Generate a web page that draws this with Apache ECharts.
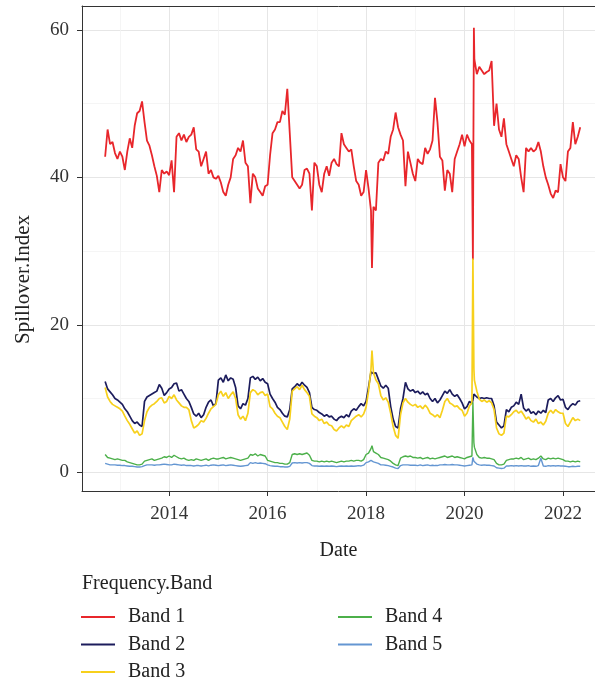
<!DOCTYPE html>
<html>
<head>
<meta charset="utf-8">
<script src="https://cdn.jsdelivr.net/npm/echarts@6/dist/echarts.min.js"></script>
<style>
  html, body { margin: 0; padding: 0; background: #fff; }
  #chart-container { width: 595px; height: 682px; }
</style>
</head>
<body>
<div id="chart-container"></div>
<script>
// sample dates (decimal years)
var dates = [
  2012.70, 2012.75, 2012.80, 2012.85, 2012.90, 2012.95,
  2013.00, 2013.05, 2013.10, 2013.15, 2013.20, 2013.25, 2013.30, 2013.35, 2013.40, 2013.45, 2013.50, 2013.55, 2013.60, 2013.65, 2013.70, 2013.75, 2013.80, 2013.85, 2013.90, 2013.95,
  2014.00, 2014.05, 2014.10, 2014.15, 2014.20, 2014.25, 2014.30, 2014.35, 2014.40, 2014.45, 2014.50, 2014.55, 2014.60, 2014.65, 2014.70, 2014.75, 2014.80, 2014.85, 2014.90, 2014.95,
  2015.00, 2015.05, 2015.10, 2015.15, 2015.20, 2015.25, 2015.30, 2015.35, 2015.40, 2015.45, 2015.50, 2015.55, 2015.60, 2015.65, 2015.70, 2015.75, 2015.80, 2015.85, 2015.90, 2015.95,
  2016.00, 2016.05, 2016.10, 2016.15, 2016.20, 2016.25, 2016.30, 2016.35, 2016.40, 2016.45, 2016.50, 2016.55, 2016.60, 2016.65, 2016.70, 2016.75, 2016.80, 2016.85, 2016.90, 2016.95,
  2017.00, 2017.05, 2017.10, 2017.15, 2017.20, 2017.25, 2017.30, 2017.35, 2017.40, 2017.45, 2017.50, 2017.55, 2017.60, 2017.65, 2017.70, 2017.75, 2017.80, 2017.85, 2017.90, 2017.95,
  2018.00, 2018.05, 2018.10, 2018.12, 2018.15, 2018.20, 2018.25, 2018.30, 2018.35, 2018.40, 2018.45, 2018.50, 2018.55, 2018.60, 2018.65, 2018.70, 2018.75, 2018.80, 2018.85, 2018.90, 2018.95,
  2019.00, 2019.05, 2019.10, 2019.15, 2019.20, 2019.25, 2019.30, 2019.35, 2019.40, 2019.45, 2019.50, 2019.55, 2019.60, 2019.65, 2019.70, 2019.75, 2019.80, 2019.85, 2019.90, 2019.95,
  2020.00, 2020.05, 2020.10, 2020.15, 2020.17, 2020.19, 2020.20, 2020.25, 2020.30, 2020.35, 2020.40, 2020.45, 2020.50, 2020.55, 2020.60, 2020.65, 2020.70, 2020.75, 2020.80, 2020.85, 2020.90, 2020.95,
  2021.00, 2021.05, 2021.10, 2021.15, 2021.20, 2021.25, 2021.30, 2021.35, 2021.40, 2021.45, 2021.50, 2021.55, 2021.60, 2021.65, 2021.70, 2021.75, 2021.80, 2021.85, 2021.90, 2021.95,
  2022.00, 2022.05, 2022.10, 2022.15, 2022.20, 2022.25, 2022.30, 2022.35
];

var band1 = [
  42.8, 46.5, 44.5, 44.8, 43.3, 42.5,
  43.5, 42.8, 41.0, 43.5, 45.3, 44.0, 47.0, 48.7, 49.0, 50.3, 47.5, 45.0, 44.3, 43.0, 41.5, 40.2, 38.0, 41.0, 40.5, 40.8,
  40.3, 42.3, 38.0, 45.5, 46.0, 45.0, 45.8, 44.8, 45.5, 45.8, 46.8, 43.8, 43.5, 41.5, 42.5, 43.5, 40.5, 41.0, 40.0, 39.8,
  40.2, 39.3, 38.0, 37.5, 39.0, 40.0, 42.5, 43.0, 44.0, 43.5, 45.0, 42.0, 41.5, 36.5, 40.5, 40.0, 38.5, 38.0, 37.5, 38.8,
  39.0, 43.0, 46.0, 46.5, 47.5, 47.5, 49.0, 48.5, 52.0, 46.0, 40.0, 39.5, 39.0, 38.5, 39.0, 41.0, 41.2, 40.5, 35.5, 42.0,
  41.5, 39.0, 38.0, 40.5, 41.5, 40.2, 42.0, 42.5, 41.8, 41.5, 46.0, 44.5, 44.0, 43.5, 43.8, 41.5, 39.5, 39.0, 37.5, 38.0,
  41.0, 38.5, 35.5, 27.7, 36.0, 35.5, 42.0, 42.5, 42.3, 43.5, 43.2, 45.5, 46.5, 48.8, 46.8, 45.8, 45.0, 38.8, 43.5, 42.0, 40.5,
  39.5, 42.5, 42.0, 41.8, 44.0, 43.2, 43.8, 45.0, 50.8, 47.5, 42.8, 42.3, 38.2, 41.0, 40.5, 38.0, 42.5, 43.5, 44.5, 45.8,
  44.2, 45.8, 45.0, 44.5, 28.8, 60.3, 56.0, 54.0, 55.0, 54.5, 54.0, 54.3, 54.5, 55.8, 47.0, 50.0, 46.5, 45.5, 48.0, 44.5, 43.5, 42.5,
  41.5, 43.0, 42.5, 40.0, 38.0, 44.0, 43.5, 44.0, 43.5, 43.8, 44.8, 43.5, 41.5, 40.0, 39.0, 37.8, 37.2, 38.2, 38.0, 41.8,
  40.0, 39.5, 43.5, 44.0, 47.5, 44.5, 45.5, 46.8
];

var band2 = [
  12.3, 11.3, 10.9, 10.5, 10.0, 9.8,
  9.5, 9.2, 8.6, 8.2, 7.6, 7.0, 6.6, 6.8, 6.4, 6.2, 9.6, 10.2, 10.4, 10.6, 10.8, 11.0, 11.9, 11.4, 10.4, 10.8,
  11.3, 11.5, 12.0, 12.1, 11.0, 11.2, 10.6, 10.0, 9.6, 8.8, 7.9, 7.6, 8.0, 7.4, 7.8, 8.8, 9.5, 9.8, 9.0, 9.3,
  12.5, 12.8, 12.2, 13.2, 12.4, 12.8, 12.6, 11.5, 9.0, 8.6, 9.3, 9.1, 10.0, 12.8, 13.0, 12.6, 12.9, 12.4, 12.7, 12.2,
  12.0, 10.6, 10.0, 9.5, 8.8, 8.5, 8.0, 7.6, 7.5, 8.5, 11.3, 11.6, 12.0, 11.7, 12.2, 11.8, 11.5, 10.8, 8.8, 8.5,
  8.4, 8.1, 7.9, 7.6, 7.8, 7.5, 7.6, 7.2, 7.0, 7.4, 7.6, 7.4, 7.8, 7.5, 8.3, 8.6, 8.4, 8.9, 9.3, 9.0,
  9.6, 11.5, 13.6, 13.8, 13.4, 13.5, 12.6, 11.7, 11.4, 11.8, 11.4, 8.9, 7.2, 6.2, 6.0, 8.6, 10.0, 12.2, 11.3, 11.0, 11.2,
  10.8, 11.0, 10.6, 10.9, 10.5, 10.7, 10.0, 9.6, 10.0, 9.4, 9.8, 10.4, 11.0, 10.7, 11.2, 10.6, 10.3, 10.5, 10.0, 9.4,
  8.6, 8.9, 9.6, 9.3, 9.8, 10.6, 10.4, 10.2, 10.0, 10.1, 10.0, 10.1, 10.0, 10.0, 9.0, 6.8, 6.4, 6.0, 6.3, 8.5, 8.2, 8.8,
  9.0, 9.5, 9.2, 10.6, 8.7, 8.3, 8.6, 8.0, 8.2, 7.8, 8.3, 8.0, 8.4, 8.1, 9.8, 10.0, 9.6, 10.1, 10.4, 9.8,
  9.9, 8.8, 8.5, 9.0, 9.3, 9.1, 9.6, 9.7
];

var band3 = [
  11.5, 10.2, 9.6, 9.2, 9.0, 8.8,
  8.6, 8.3, 7.6, 7.0, 6.5, 5.9, 5.3, 5.6, 5.0, 5.2, 7.0, 8.2, 8.8, 9.1, 9.3, 9.6, 10.0, 10.1, 9.4, 9.6,
  10.3, 10.0, 10.5, 9.8, 9.4, 9.0, 8.8, 8.8, 8.5, 7.0, 6.0, 6.2, 6.5, 7.0, 6.8, 7.3, 8.0, 8.6, 8.9, 9.2,
  10.5, 11.0, 10.3, 10.8, 10.0, 10.5, 10.9, 10.0, 7.8, 7.2, 7.6, 7.0, 8.0, 10.8, 11.2, 11.0, 10.5, 10.8, 10.9, 10.4,
  10.6, 8.9, 8.6, 8.0, 7.6, 7.4, 6.8, 6.2, 5.8, 7.2, 11.0, 11.3, 11.6, 11.2, 11.8, 11.2, 10.8, 10.3, 7.9, 7.6,
  7.4, 7.0, 7.2, 6.6, 6.8, 6.4, 6.3, 5.8, 5.6, 6.0, 6.3, 6.0, 6.4, 6.2, 7.0, 7.3, 7.6, 7.8, 7.5, 7.9,
  8.8, 11.0, 14.0, 16.5, 13.5, 12.5, 12.0, 10.4, 9.8, 10.1, 9.5, 8.0, 6.2, 5.0, 4.6, 7.8, 9.4, 10.0, 9.5, 9.2, 9.0,
  9.2, 8.8, 9.0, 8.6, 9.1, 8.7, 8.0, 7.8, 7.5, 7.8, 7.4, 8.4, 9.6, 10.0, 9.4, 9.2, 8.9, 9.0, 8.6, 8.4,
  7.6, 8.0, 9.0, 9.4, 29.0, 14.0, 12.5, 11.0, 9.9, 9.6, 9.8, 9.5, 9.7, 9.4, 8.5, 6.0, 5.2, 5.0, 5.3, 7.6, 7.5, 7.8,
  8.2, 8.4, 8.0, 8.3, 7.8, 7.2, 7.5, 7.0, 6.8, 7.2, 6.6, 6.8, 6.4, 6.9, 8.0, 8.4, 8.0, 8.5, 8.2, 8.0,
  8.0, 6.6, 6.2, 6.8, 7.4, 7.0, 7.2, 7.0
];

var band4 = [
  2.4, 2.0, 1.9, 1.8, 1.7, 1.8,
  1.7, 1.6, 1.6, 1.4, 1.3, 1.2, 1.1, 1.0, 1.0, 1.1, 1.5, 1.6, 1.7, 1.8, 1.6, 1.7, 1.8, 1.9, 2.1, 2.0,
  2.2, 2.0, 2.3, 2.1, 1.9, 1.8, 1.9, 1.7, 1.6, 1.7, 1.6, 1.8, 1.7, 1.6, 1.7, 1.8, 1.6, 1.8, 1.9, 1.8,
  1.8, 1.9, 2.0, 1.8, 1.9, 2.0, 1.9, 1.8, 1.7, 1.6, 1.7, 1.8, 1.9, 2.4, 2.3, 2.5, 2.2, 2.4, 2.3, 2.2,
  1.6, 1.5, 1.4, 1.3, 1.3, 1.2, 1.2, 1.1, 1.1, 1.3, 2.4, 2.5, 2.4, 2.5, 2.4, 2.5, 2.6, 2.3, 1.6, 1.5,
  1.5, 1.4, 1.5, 1.4, 1.5, 1.4, 1.5, 1.4, 1.3, 1.4, 1.5, 1.4, 1.5, 1.5, 1.6, 1.5, 1.6, 1.6, 1.5, 1.7,
  2.4, 2.6, 3.2, 3.6, 2.8, 2.6, 2.4, 2.0, 1.9, 1.8, 1.7, 1.5, 1.2, 1.0, 0.9, 1.9, 2.1, 2.2, 2.1, 2.2, 2.0,
  2.0, 1.9, 2.0, 1.8, 1.9, 2.0, 1.8, 1.9, 1.8, 1.9, 2.0, 2.1, 2.2, 2.0, 2.1, 2.2, 2.0, 2.1, 2.0, 1.9,
  1.8, 2.0, 2.1, 2.2, 9.5, 4.0, 3.4, 2.4, 2.0, 1.9, 2.0, 1.9, 1.9, 1.8, 1.7, 1.2, 1.0, 1.0, 1.1, 1.6, 1.7, 1.8,
  1.8, 1.9, 1.8, 2.0, 1.7, 1.8, 1.9, 1.7, 1.8, 1.7, 1.9, 2.2, 1.8, 1.7, 1.9, 1.8, 1.9, 1.8, 1.9, 1.8,
  1.7, 1.5, 1.5, 1.4, 1.5, 1.4, 1.5, 1.4
];

var band5 = [
  1.2, 1.1, 1.0, 1.0, 1.0, 0.95,
  0.95, 0.9, 0.9, 0.85, 0.8, 0.8, 0.75, 0.7, 0.7, 0.75, 0.9, 1.0, 1.0, 1.0, 0.95, 1.0, 1.0, 1.05, 1.1, 1.05,
  1.0, 1.0, 1.1, 1.05, 1.0, 0.95, 1.0, 0.9, 0.9, 0.9, 0.85, 0.9, 0.9, 0.85, 0.9, 0.95, 0.85, 0.95, 1.0, 0.95,
  0.9, 0.95, 1.0, 0.9, 0.95, 1.0, 0.95, 0.9, 0.85, 0.8, 0.85, 0.9, 0.95, 1.3, 1.2, 1.3, 1.2, 1.25, 1.2, 1.15,
  1.0, 0.9, 0.85, 0.8, 0.8, 0.75, 0.75, 0.7, 0.7, 0.8, 1.25, 1.3, 1.25, 1.3, 1.25, 1.3, 1.3, 1.2, 0.9, 0.85,
  0.85, 0.8, 0.85, 0.8, 0.85, 0.8, 0.85, 0.8, 0.75, 0.8, 0.85, 0.8, 0.85, 0.8, 0.85, 0.8, 0.85, 0.9, 0.85, 0.95,
  1.3, 1.4, 1.6, 1.6, 1.4, 1.3, 1.2, 1.0, 1.0, 0.95, 0.9, 0.8, 0.7, 0.55, 0.5, 0.9, 1.0, 1.0, 1.0, 0.95, 0.95,
  0.95, 0.9, 1.0, 0.9, 0.95, 1.0, 0.9, 0.95, 0.9, 0.9, 1.0, 1.0, 1.05, 1.0, 1.0, 1.05, 1.0, 1.0, 0.95, 0.9,
  0.85, 0.9, 0.95, 1.0, 2.0, 1.5, 1.3, 1.1, 1.0, 0.95, 1.0, 0.95, 0.95, 0.9, 0.85, 0.6, 0.55, 0.5, 0.55, 0.85, 0.85, 0.9,
  0.85, 0.9, 0.85, 0.9, 0.85, 0.85, 0.9, 0.8, 0.85, 0.8, 0.9, 1.9, 0.85, 0.8, 0.9, 0.85, 0.9, 0.85, 0.9, 0.85,
  0.85, 0.8, 0.75, 0.75, 0.8, 0.75, 0.8, 0.8
];

var bandNames = ['Band 1', 'Band 2', 'Band 3', 'Band 4', 'Band 5'];
var bandValues = [band1, band2, band3, band4, band5];
var bandColors = ['#e8262b', '#1c1c5c', '#f7d01c', '#4cb04a', '#6496d2'];
var bandWidths = [1.8, 1.7, 1.7, 1.4, 1.4];
var xTicks = [2014, 2016, 2018, 2020, 2022];
var yTicks = [0, 20, 40, 60];

var dom = document.getElementById('chart-container');
var myChart = echarts.init(dom, null, { renderer: 'canvas' });

var font = 'Liberation Serif';

var series = bandValues.map(function (vals, k) {
    return {
        name: bandNames[k],
        type: 'line',
        data: dates.map(function (d, i) { return [d, vals[i]]; }),
        symbol: 'none',
        showSymbol: false,
        lineStyle: { width: bandWidths[k], color: bandColors[k] },
        itemStyle: { color: bandColors[k] },
        animation: false
    };
});

var legendBase = {
    orient: 'vertical',
    top: 602,
    height: 90,
    icon: 'rect',
    itemWidth: 34,
    itemHeight: 2,
    itemGap: 7.5,
    textStyle: { fontFamily: font, fontSize: 20, color: '#222', lineHeight: 20, padding: [0, 0, 0, 8] }
};

var xMin = 2012.23, xMax = 2022.65;

var option = {
    backgroundColor: '#fff',
    animation: false,
    title: {
        text: 'Frequency.Band',
        left: 77,
        top: 569,
        textStyle: { fontFamily: font, fontSize: 20, fontWeight: 'normal', color: '#222' }
    },
    legend: [
        Object.assign({}, legendBase, { left: 76, data: bandNames.slice(0, 3) }),
        Object.assign({}, legendBase, { left: 333, data: bandNames.slice(3) })
    ],
    grid: {
        left: 82,
        right: 0,
        top: 6,
        bottom: 191,
        show: false
    },
    xAxis: [{
        type: 'value',
        position: 'bottom',
        min: xMin,
        max: xMax,
        minInterval: 2,
        maxInterval: 2,
        name: 'Date',
        nameLocation: 'middle',
        nameGap: 50,
        nameTextStyle: { fontFamily: font, fontSize: 20, color: '#222' },
        axisLine: { show: true, onZero: false, lineStyle: { color: '#333', width: 1 } },
        axisTick: { show: true, length: 5, lineStyle: { color: '#333' }, customValues: xTicks },
        axisLabel: {
            customValues: xTicks,
            margin: 14,
            fontFamily: font, fontSize: 19, color: '#333',
            formatter: function (v) { return String(Math.round(v)); }
        },
        splitLine: { show: true, lineStyle: { color: '#e6e6e6', width: 1 } },
        minorTick: { show: false, splitNumber: 2 },
        minorSplitLine: { show: true, lineStyle: { color: '#f2f2f2', width: 0.8 } }
    }, {
        // top panel border
        type: 'value',
        position: 'top',
        min: xMin,
        max: xMax,
        axisLine: { show: true, onZero: false, lineStyle: { color: '#333', width: 1 } },
        axisTick: { show: false },
        axisLabel: { show: false },
        splitLine: { show: false }
    }],
    yAxis: {
        type: 'value',
        min: -2.55,
        max: 63.25,
        minInterval: 20,
        maxInterval: 20,
        name: 'Spillover.Index',
        nameLocation: 'middle',
        nameGap: 48,
        nameTextStyle: { fontFamily: font, fontSize: 21, color: '#222', padding: [0, 62, 0, 0] },
        axisLine: { show: true, onZero: false, lineStyle: { color: '#333', width: 1 } },
        axisTick: { show: true, length: 5, lineStyle: { color: '#333' }, customValues: yTicks },
        axisLabel: {
            customValues: yTicks,
            margin: 13,
            fontFamily: font, fontSize: 19, color: '#333'
        },
        splitLine: { show: true, lineStyle: { color: '#e6e6e6', width: 1 } },
        minorTick: { show: false, splitNumber: 2 },
        minorSplitLine: { show: true, lineStyle: { color: '#f2f2f2', width: 0.8 } }
    },
    series: series
};

myChart.setOption(option);
window.addEventListener('resize', myChart.resize);
</script>
</body>
</html>
